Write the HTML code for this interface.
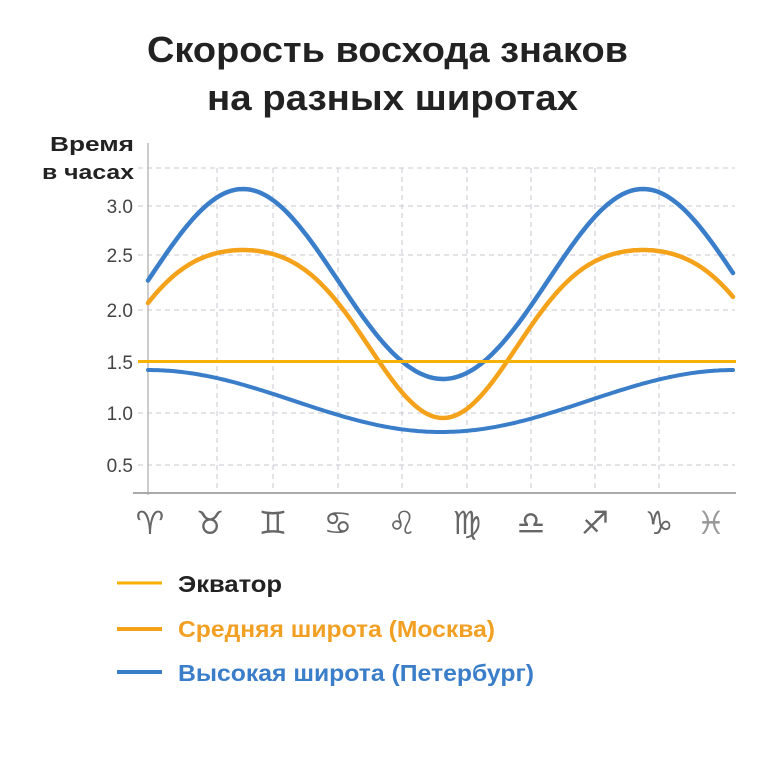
<!DOCTYPE html>
<html><head><meta charset="utf-8"><style>
body{margin:0;background:#fff;}
svg{display:block}
</style></head><body>
<svg id="s" width="768" height="768" xmlns="http://www.w3.org/2000/svg" font-family="Liberation Sans, DejaVu Sans, sans-serif">
<rect width="768" height="768" fill="#fff"/>
<text x="147" y="62" font-size="36" font-weight="bold" fill="#222" textLength="481" lengthAdjust="spacingAndGlyphs">Скорость восхода знаков</text>
<text x="207" y="110" font-size="36" font-weight="bold" fill="#222" textLength="371" lengthAdjust="spacingAndGlyphs">на разных широтах</text>
<text x="50" y="151" font-size="20" font-weight="bold" fill="#222" textLength="84" lengthAdjust="spacingAndGlyphs">Время</text>
<text x="42" y="179" font-size="20" font-weight="bold" fill="#222" textLength="92" lengthAdjust="spacingAndGlyphs">в часах</text>
<g stroke="#c8c8d0" stroke-width="1" stroke-dasharray="5,4" fill="none">
<line x1="138" y1="168" x2="735" y2="168"/>
<line x1="138" y1="206" x2="735" y2="206"/>
<line x1="138" y1="255" x2="735" y2="255"/>
<line x1="138" y1="310" x2="735" y2="310"/>
<line x1="138" y1="413" x2="735" y2="413"/>
<line x1="138" y1="465" x2="735" y2="465"/>
<line x1="217" y1="168" x2="217" y2="493"/>
<line x1="273" y1="168" x2="273" y2="493"/>
<line x1="338" y1="168" x2="338" y2="493"/>
<line x1="402" y1="168" x2="402" y2="493"/>
<line x1="467" y1="168" x2="467" y2="493"/>
<line x1="531" y1="168" x2="531" y2="493"/>
<line x1="595" y1="168" x2="595" y2="493"/>
<line x1="659" y1="168" x2="659" y2="493"/>
</g>
<line x1="148" y1="143" x2="148" y2="495" stroke="#bbb" stroke-width="1.5"/>
<line x1="133" y1="493" x2="736" y2="493" stroke="#aaa" stroke-width="2"/>
<g font-size="19" fill="#444" text-anchor="end">
<text x="133" y="213">3.0</text>
<text x="133" y="262">2.5</text>
<text x="133" y="317">2.0</text>
<text x="133" y="369">1.5</text>
<text x="133" y="420">1.0</text>
<text x="133" y="472">0.5</text>
</g>
<path id="p1" fill="none" stroke="#3a7dc9" stroke-width="4.5" stroke-linecap="round"/>
<path id="p2" fill="none" stroke="#f5a21b" stroke-width="4.5" stroke-linecap="round"/>
<path id="p3" fill="none" stroke="#3a7dc9" stroke-width="4" stroke-linecap="round"/>
<line x1="138" y1="361.5" x2="736" y2="361.5" stroke="#f7b100" stroke-width="3"/>
<g font-family="DejaVu Sans, sans-serif" font-size="32" fill="#666" text-anchor="middle">
<text x="150" y="534">♈&#xFE0E;</text>
<text x="210" y="534">♉&#xFE0E;</text>
<text x="273" y="534">♊&#xFE0E;</text>
<text x="338" y="534">♋&#xFE0E;</text>
<text x="402" y="534">♌&#xFE0E;</text>
<text x="467" y="534">♍&#xFE0E;</text>
<text x="531" y="534">♎&#xFE0E;</text>
<text x="595" y="534">♐&#xFE0E;</text>
<text x="659" y="534">♑&#xFE0E;</text>
<text x="711" y="534" fill="#999">♓&#xFE0E;</text>
</g>
<line x1="117" y1="583" x2="162" y2="583" stroke="#f7b100" stroke-width="3"/>
<line x1="117" y1="629" x2="162" y2="629" stroke="#f5a21b" stroke-width="4"/>
<line x1="117" y1="672" x2="162" y2="672" stroke="#3a7dc9" stroke-width="4"/>
<g font-size="23" font-weight="bold">
<text x="178" y="592" fill="#222" textLength="104" lengthAdjust="spacingAndGlyphs">Экватор</text>
<text x="178" y="637" fill="#f2a024" textLength="317" lengthAdjust="spacingAndGlyphs">Средняя широта (Москва)</text>
<text x="178" y="681" fill="#3a7dc9" textLength="356" lengthAdjust="spacingAndGlyphs">Высокая широта (Петербург)</text>
</g>
</svg>
<script>
function mk(f){var d="";for(var x=148;x<=735;x+=3){d+=(x==148?"M":"L")+x+","+f(x).toFixed(1)+" ";}return d;}
var T=2*Math.PI;
function th(x){return T*(x-243)/400;}
document.getElementById("p1").setAttribute("d",mk(function(x){var t=th(x);return 286-95*Math.cos(t)-2*Math.cos(2*t);}));
document.getElementById("p2").setAttribute("d",mk(function(x){var t=th(x);return 321.7-84*Math.cos(t)+12.3*Math.cos(2*t);}));
document.getElementById("p3").setAttribute("d",mk(function(x){return 370+62*(0.5+0.5*Math.cos(Math.PI*(x-441)/293));}));
</script>
</body></html>
